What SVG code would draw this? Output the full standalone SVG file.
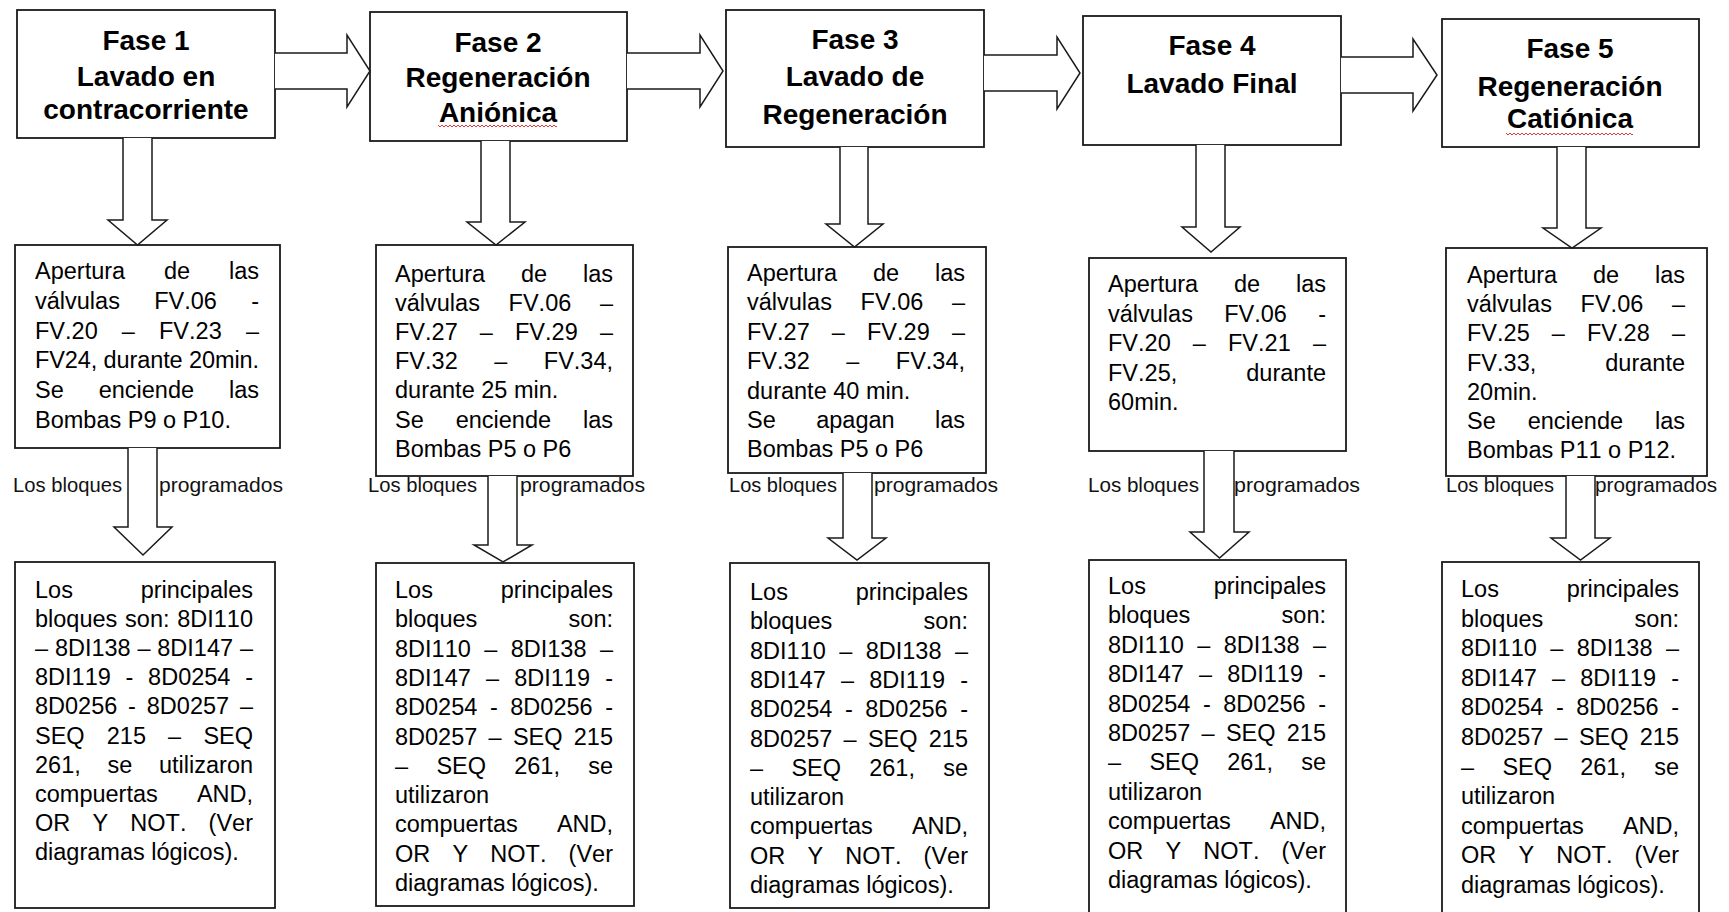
<svg xmlns="http://www.w3.org/2000/svg" width="1729" height="912" viewBox="0 0 1729 912">
<style>
.box{fill:#fff;stroke:#1a1a1a;stroke-width:1.8}
.arr{fill:#fff;stroke:#1a1a1a;stroke-width:1.5;stroke-linejoin:miter}
.t{font-family:"Liberation Sans",Arial,sans-serif;font-weight:bold;font-size:28px;text-anchor:middle;fill:#000;font-kerning:none}
.b{font-family:"Liberation Sans",Arial,sans-serif;font-size:23.5px;fill:#000;font-kerning:none}
.l{font-family:"Liberation Sans",Arial,sans-serif;font-size:21px;fill:#111;font-kerning:none}
</style>
<defs>
<pattern id="sq" width="4" height="4" patternUnits="userSpaceOnUse"><path d="M0,3 L2,1 L4,3" fill="none" stroke="#e02020" stroke-width="0.9"/></pattern>
</defs>
<rect width="1729" height="912" fill="#fff"/>

<g id="fase1">
<rect class="box" x="17" y="10" width="258" height="128"/>
<text class="t" x="146" y="50">Fase 1</text>
<text class="t" x="146" y="86">Lavado en</text>
<text class="t" x="146" y="119">contracorriente</text>
</g>
<g id="fase2">
<rect class="box" x="370" y="12" width="257" height="129"/>
<text class="t" x="498" y="52">Fase 2</text>
<text class="t" x="498" y="87">Regeneración</text>
<text class="t" x="498" y="122">Aniónica</text>
<rect x="438" y="125" width="119" height="4" fill="url(#sq)"/>
</g>
<g id="fase3">
<rect class="box" x="726" y="10" width="258" height="137"/>
<text class="t" x="855" y="49">Fase 3</text>
<text class="t" x="855" y="86">Lavado de</text>
<text class="t" x="855" y="124">Regeneración</text>
</g>
<g id="fase4">
<rect class="box" x="1083" y="16" width="258" height="129"/>
<text class="t" x="1212" y="55">Fase 4</text>
<text class="t" x="1212" y="93">Lavado Final</text>
</g>
<g id="fase5">
<rect class="box" x="1442" y="19" width="257" height="128"/>
<text class="t" x="1570" y="58">Fase 5</text>
<text class="t" x="1570" y="96">Regeneración</text>
<text class="t" x="1570" y="128">Catiónica</text>
<rect x="1506" y="132" width="127" height="4" fill="url(#sq)"/>
</g>

<g id="accion1">
<rect class="box" x="15" y="245" width="265" height="203"/>
<g transform="translate(35 0)">
<text class="b" y="279"><tspan x="0">Apertura</tspan><tspan x="129">de</tspan><tspan x="194">las</tspan></text>
<text class="b" y="308.8"><tspan x="0">válvulas</tspan><tspan x="119.2">FV.06</tspan><tspan x="216.2">-</tspan></text>
<text class="b" y="338.6"><tspan x="0">FV.20</tspan><tspan x="86.8">–</tspan><tspan x="124">FV.23</tspan><tspan x="210.9">–</tspan></text>
<text class="b" x="0" y="368.4" textLength="224" lengthAdjust="spacing">FV24, durante 20min.</text>
<text class="b" y="398.2"><tspan x="0">Se</tspan><tspan x="63.7">enciende</tspan><tspan x="194">las</tspan></text>
<text class="b" x="0" y="428">Bombas P9 o P10.</text>
</g>
</g>
<g id="accion2">
<rect class="box" x="376" y="245" width="257" height="231"/>
<g transform="translate(395 0)">
<text class="b" y="281.5"><tspan x="0">Apertura</tspan><tspan x="126">de</tspan><tspan x="188">las</tspan></text>
<text class="b" y="310.7"><tspan x="0">válvulas</tspan><tspan x="113.6">FV.06</tspan><tspan x="204.9">–</tspan></text>
<text class="b" y="339.9"><tspan x="0">FV.27</tspan><tspan x="84.8">–</tspan><tspan x="120">FV.29</tspan><tspan x="204.9">–</tspan></text>
<text class="b" y="369.1"><tspan x="0">FV.32</tspan><tspan x="99.2">–</tspan><tspan x="148.8">FV.34,</tspan></text>
<text class="b" x="0" y="398.3">durante 25 min.</text>
<text class="b" y="427.5"><tspan x="0">Se</tspan><tspan x="60.7">enciende</tspan><tspan x="188">las</tspan></text>
<text class="b" x="0" y="456.7">Bombas P5 o P6</text>
</g>
</g>
<g id="accion3">
<rect class="box" x="728" y="247" width="258" height="226"/>
<g transform="translate(747 0)">
<text class="b" y="281"><tspan x="0">Apertura</tspan><tspan x="126">de</tspan><tspan x="188">las</tspan></text>
<text class="b" y="310.4"><tspan x="0">válvulas</tspan><tspan x="113.6">FV.06</tspan><tspan x="204.9">–</tspan></text>
<text class="b" y="339.8"><tspan x="0">FV.27</tspan><tspan x="84.8">–</tspan><tspan x="120">FV.29</tspan><tspan x="204.9">–</tspan></text>
<text class="b" y="369.2"><tspan x="0">FV.32</tspan><tspan x="99.2">–</tspan><tspan x="148.8">FV.34,</tspan></text>
<text class="b" x="0" y="398.6">durante 40 min.</text>
<text class="b" y="428"><tspan x="0">Se</tspan><tspan x="69.2">apagan</tspan><tspan x="188">las</tspan></text>
<text class="b" x="0" y="457.4">Bombas P5 o P6</text>
</g>
</g>
<g id="accion4">
<rect class="box" x="1089" y="258" width="257" height="193"/>
<g transform="translate(1108 0)">
<text class="b" y="292"><tspan x="0">Apertura</tspan><tspan x="126">de</tspan><tspan x="188">las</tspan></text>
<text class="b" y="321.5"><tspan x="0">válvulas</tspan><tspan x="116.2">FV.06</tspan><tspan x="210.2">-</tspan></text>
<text class="b" y="351"><tspan x="0">FV.20</tspan><tspan x="84.8">–</tspan><tspan x="120">FV.21</tspan><tspan x="204.9">–</tspan></text>
<text class="b" y="380.5"><tspan x="0">FV.25,</tspan><tspan x="138.3">durante</tspan></text>
<text class="b" x="0" y="410">60min.</text>
</g>
</g>
<g id="accion5">
<rect class="box" x="1446" y="248" width="261" height="228"/>
<g transform="translate(1467 0)">
<text class="b" y="283"><tspan x="0">Apertura</tspan><tspan x="126">de</tspan><tspan x="188">las</tspan></text>
<text class="b" y="312.2"><tspan x="0">válvulas</tspan><tspan x="113.6">FV.06</tspan><tspan x="204.9">–</tspan></text>
<text class="b" y="341.4"><tspan x="0">FV.25</tspan><tspan x="84.8">–</tspan><tspan x="120">FV.28</tspan><tspan x="204.9">–</tspan></text>
<text class="b" y="370.6"><tspan x="0">FV.33,</tspan><tspan x="138.3">durante</tspan></text>
<text class="b" x="0" y="399.8">20min.</text>
<text class="b" y="429"><tspan x="0">Se</tspan><tspan x="60.7">enciende</tspan><tspan x="188">las</tspan></text>
<text class="b" x="0" y="458.2">Bombas P11 o P12.</text>
</g>
</g>

<g id="bloques1">
<rect class="box" x="15" y="562" width="260" height="346"/>
<g transform="translate(35 0)">
<text class="b" y="598"><tspan x="0">Los</tspan><tspan x="105.7">principales</tspan></text>
<text class="b" y="627.1"><tspan x="0">bloques</tspan><tspan x="90.1">son:</tspan><tspan x="142.2">8DI110</tspan></text>
<text class="b" y="656.2"><tspan x="0">–</tspan><tspan x="19.9">8DI138</tspan><tspan x="102.5">–</tspan><tspan x="122.3">8DI147</tspan><tspan x="204.9">–</tspan></text>
<text class="b" y="685.3"><tspan x="0">8DI119</tspan><tspan x="90.6">-</tspan><tspan x="113.1">8D0254</tspan><tspan x="210.2">-</tspan></text>
<text class="b" y="714.4"><tspan x="0">8D0256</tspan><tspan x="93.1">-</tspan><tspan x="111.8">8D0257</tspan><tspan x="204.9">–</tspan></text>
<text class="b" y="743.5"><tspan x="0">SEQ</tspan><tspan x="71.8">215</tspan><tspan x="133.1">–</tspan><tspan x="168.4">SEQ</tspan></text>
<text class="b" y="772.6"><tspan x="0">261,</tspan><tspan x="72.5">se</tspan><tspan x="124">utilizaron</tspan></text>
<text class="b" y="801.7"><tspan x="0">compuertas</tspan><tspan x="161.9">AND,</tspan></text>
<text class="b" y="830.8"><tspan x="0">OR</tspan><tspan x="57.5">Y</tspan><tspan x="95.3">NOT.</tspan><tspan x="173.6">(Ver</tspan></text>
<text class="b" x="0" y="859.9">diagramas lógicos).</text>
</g>
</g>
<g id="bloques2">
<rect class="box" x="376" y="563" width="258" height="343"/>
<g transform="translate(395 0)">
<text class="b" y="598"><tspan x="0">Los</tspan><tspan x="105.7">principales</tspan></text>
<text class="b" y="627.3"><tspan x="0">bloques</tspan><tspan x="173.6">son:</tspan></text>
<text class="b" y="656.6"><tspan x="0">8DI110</tspan><tspan x="89.2">–</tspan><tspan x="115.7">8DI138</tspan><tspan x="204.9">–</tspan></text>
<text class="b" y="685.9"><tspan x="0">8DI147</tspan><tspan x="91">–</tspan><tspan x="119.2">8DI119</tspan><tspan x="210.2">-</tspan></text>
<text class="b" y="715.2"><tspan x="0">8D0254</tspan><tspan x="94.9">-</tspan><tspan x="115.3">8D0256</tspan><tspan x="210.2">-</tspan></text>
<text class="b" y="744.5"><tspan x="0">8D0257</tspan><tspan x="93.6">–</tspan><tspan x="117.9">SEQ</tspan><tspan x="178.8">215</tspan></text>
<text class="b" y="773.8"><tspan x="0">–</tspan><tspan x="41.4">SEQ</tspan><tspan x="119.2">261,</tspan><tspan x="193.2">se</tspan></text>
<text class="b" x="0" y="803.1">utilizaron</text>
<text class="b" y="832.4"><tspan x="0">compuertas</tspan><tspan x="161.9">AND,</tspan></text>
<text class="b" y="861.7"><tspan x="0">OR</tspan><tspan x="57.5">Y</tspan><tspan x="95.3">NOT.</tspan><tspan x="173.6">(Ver</tspan></text>
<text class="b" x="0" y="891">diagramas lógicos).</text>
</g>
</g>
<g id="bloques3">
<rect class="box" x="730" y="563" width="259" height="345"/>
<g transform="translate(750 0)">
<text class="b" y="600"><tspan x="0">Los</tspan><tspan x="105.7">principales</tspan></text>
<text class="b" y="629.3"><tspan x="0">bloques</tspan><tspan x="173.6">son:</tspan></text>
<text class="b" y="658.6"><tspan x="0">8DI110</tspan><tspan x="89.2">–</tspan><tspan x="115.7">8DI138</tspan><tspan x="204.9">–</tspan></text>
<text class="b" y="687.9"><tspan x="0">8DI147</tspan><tspan x="91">–</tspan><tspan x="119.2">8DI119</tspan><tspan x="210.2">-</tspan></text>
<text class="b" y="717.2"><tspan x="0">8D0254</tspan><tspan x="94.9">-</tspan><tspan x="115.3">8D0256</tspan><tspan x="210.2">-</tspan></text>
<text class="b" y="746.5"><tspan x="0">8D0257</tspan><tspan x="93.6">–</tspan><tspan x="117.9">SEQ</tspan><tspan x="178.8">215</tspan></text>
<text class="b" y="775.8"><tspan x="0">–</tspan><tspan x="41.4">SEQ</tspan><tspan x="119.2">261,</tspan><tspan x="193.2">se</tspan></text>
<text class="b" x="0" y="805.1">utilizaron</text>
<text class="b" y="834.4"><tspan x="0">compuertas</tspan><tspan x="161.9">AND,</tspan></text>
<text class="b" y="863.7"><tspan x="0">OR</tspan><tspan x="57.5">Y</tspan><tspan x="95.3">NOT.</tspan><tspan x="173.6">(Ver</tspan></text>
<text class="b" x="0" y="893">diagramas lógicos).</text>
</g>
</g>
<g id="bloques4">
<rect class="box" x="1089" y="560" width="257" height="362"/>
<g transform="translate(1108 0)">
<text class="b" y="594"><tspan x="0">Los</tspan><tspan x="105.7">principales</tspan></text>
<text class="b" y="623.4"><tspan x="0">bloques</tspan><tspan x="173.6">son:</tspan></text>
<text class="b" y="652.8"><tspan x="0">8DI110</tspan><tspan x="89.2">–</tspan><tspan x="115.7">8DI138</tspan><tspan x="204.9">–</tspan></text>
<text class="b" y="682.2"><tspan x="0">8DI147</tspan><tspan x="91">–</tspan><tspan x="119.2">8DI119</tspan><tspan x="210.2">-</tspan></text>
<text class="b" y="711.6"><tspan x="0">8D0254</tspan><tspan x="94.9">-</tspan><tspan x="115.3">8D0256</tspan><tspan x="210.2">-</tspan></text>
<text class="b" y="741"><tspan x="0">8D0257</tspan><tspan x="93.6">–</tspan><tspan x="117.9">SEQ</tspan><tspan x="178.8">215</tspan></text>
<text class="b" y="770.4"><tspan x="0">–</tspan><tspan x="41.4">SEQ</tspan><tspan x="119.2">261,</tspan><tspan x="193.2">se</tspan></text>
<text class="b" x="0" y="799.8">utilizaron</text>
<text class="b" y="829.2"><tspan x="0">compuertas</tspan><tspan x="161.9">AND,</tspan></text>
<text class="b" y="858.6"><tspan x="0">OR</tspan><tspan x="57.5">Y</tspan><tspan x="95.3">NOT.</tspan><tspan x="173.6">(Ver</tspan></text>
<text class="b" x="0" y="888">diagramas lógicos).</text>
</g>
</g>
<g id="bloques5">
<rect class="box" x="1442" y="562" width="257" height="360"/>
<g transform="translate(1461 0)">
<text class="b" y="597"><tspan x="0">Los</tspan><tspan x="105.7">principales</tspan></text>
<text class="b" y="626.6"><tspan x="0">bloques</tspan><tspan x="173.6">son:</tspan></text>
<text class="b" y="656.2"><tspan x="0">8DI110</tspan><tspan x="89.2">–</tspan><tspan x="115.7">8DI138</tspan><tspan x="204.9">–</tspan></text>
<text class="b" y="685.8"><tspan x="0">8DI147</tspan><tspan x="91">–</tspan><tspan x="119.2">8DI119</tspan><tspan x="210.2">-</tspan></text>
<text class="b" y="715.4"><tspan x="0">8D0254</tspan><tspan x="94.9">-</tspan><tspan x="115.3">8D0256</tspan><tspan x="210.2">-</tspan></text>
<text class="b" y="745"><tspan x="0">8D0257</tspan><tspan x="93.6">–</tspan><tspan x="117.9">SEQ</tspan><tspan x="178.8">215</tspan></text>
<text class="b" y="774.6"><tspan x="0">–</tspan><tspan x="41.4">SEQ</tspan><tspan x="119.2">261,</tspan><tspan x="193.2">se</tspan></text>
<text class="b" x="0" y="804.2">utilizaron</text>
<text class="b" y="833.8"><tspan x="0">compuertas</tspan><tspan x="161.9">AND,</tspan></text>
<text class="b" y="863.4"><tspan x="0">OR</tspan><tspan x="57.5">Y</tspan><tspan x="95.3">NOT.</tspan><tspan x="173.6">(Ver</tspan></text>
<text class="b" x="0" y="893">diagramas lógicos).</text>
</g>
</g>

<g id="connectors">
<path class="arr" d="M275,53 H347 V35 L370,71 L347,107 V89 H275"/>
<path class="arr" d="M627,53 H700 V35 L723,71 L700,107 V89 H627"/>
<path class="arr" d="M984,55 H1057 V37 L1080,73 L1057,109 V91 H984"/>
<path class="arr" d="M1341,57 H1413 V39 L1437,75 L1413,111 V93 H1341"/>

<path class="arr" d="M123,138 V220 H108 L137.5,245 L167,220 H152 V138"/>
<path class="arr" d="M481,141 V222 H467 L496,245 L525,222 H510 V141"/>
<path class="arr" d="M840,147 V224 H826 L854.5,247 L883,224 H868 V147"/>
<path class="arr" d="M1196,145 V227 H1182 L1211,252 L1240,227 H1225 V145"/>
<path class="arr" d="M1557,147 V228 H1543 L1572,248 L1601,228 H1586 V147"/>

<path class="arr" d="M128,448 V527 H114 L143,555 L172,527 H157 V448"/>
<path class="arr" d="M488,476 V545 H474 L503,562 L532,545 H517 V476"/>
<path class="arr" d="M843,473 V538 H828 L857,560 L886,538 H872 V473"/>
<path class="arr" d="M1204,451 V532 H1190 L1219.5,558 L1249,532 H1234 V451"/>
<path class="arr" d="M1566,476 V538 H1551 L1580.5,560 L1610,538 H1595 V476"/>

<text class="l" x="13" y="492" textLength="109" lengthAdjust="spacingAndGlyphs">Los bloques</text>
<text class="l" x="159" y="492" textLength="124" lengthAdjust="spacingAndGlyphs">programados</text>
<text class="l" x="368" y="492" textLength="109" lengthAdjust="spacingAndGlyphs">Los bloques</text>
<text class="l" x="520" y="492" textLength="125" lengthAdjust="spacingAndGlyphs">programados</text>
<text class="l" x="729" y="492" textLength="108" lengthAdjust="spacingAndGlyphs">Los bloques</text>
<text class="l" x="874" y="492" textLength="124" lengthAdjust="spacingAndGlyphs">programados</text>
<text class="l" x="1088" y="492" textLength="111" lengthAdjust="spacingAndGlyphs">Los bloques</text>
<text class="l" x="1234" y="492" textLength="126" lengthAdjust="spacingAndGlyphs">programados</text>
<text class="l" x="1446" y="492" textLength="108" lengthAdjust="spacingAndGlyphs">Los bloques</text>
<text class="l" x="1595" y="492" textLength="122" lengthAdjust="spacingAndGlyphs">programados</text>
</g>
</svg>
